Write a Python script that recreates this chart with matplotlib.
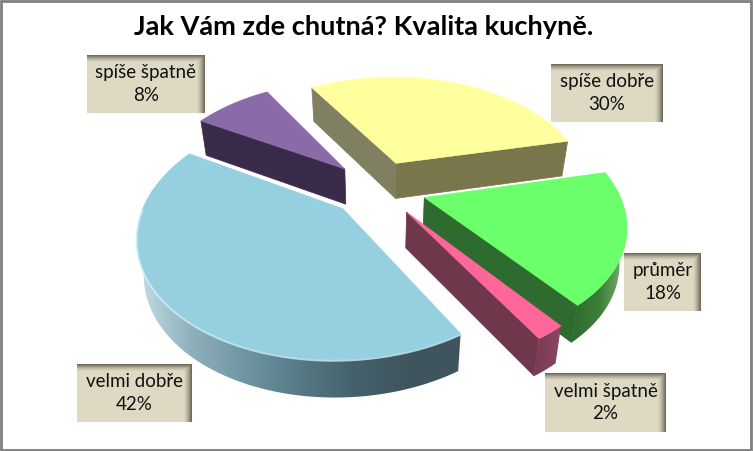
import numpy as np
import matplotlib
matplotlib.use("Agg")
import matplotlib.pyplot as plt
from matplotlib.colors import to_rgb
from matplotlib.patches import Polygon, Rectangle

plt.rcParams['font.family'] = ['Lato', 'DejaVu Sans']

title = "Jak Vám zde chutná? Kvalita kuchyně."

# counter-clockwise from the yellow slice
categories = ["spíše dobře", "spíše špatně", "velmi dobře", "velmi špatně", "průměr"]
values = [30, 8, 42, 2, 18]

top_colors = ["#FFFF9E", "#8A6BA8", "#96CFE0", "#FF6699", "#6BFF6B"]
wall_colors = ["#79764C", "#3A2B4A", "#3F555E", "#6E374C", "#2E6B2E"]
arc_ramps = [
    ["#79764C", "#79764C"],
    ["#3A2B4A", "#3A2B4A"],
    ["#C4DEE6", "#8FB0BB", "#6F95A3", "#567A86", "#45626C", "#3F555E", "#3F555E"],
    ["#7A3A54", "#8C4560"],
    ["#2E6B2E", "#3C8038", "#7DB87A"],
]
label_boxes = [(551, 64, 112, 58), (87, 55, 118, 58), (77, 364, 115, 58),
               (545, 373, 121, 59), (624, 253, 77, 58)]

START_ANGLE = 13
EXPLODE = 0.25
CX, CY = 378, 188
A, B = 193, 112
PX, PY = 0.2, 0.197
DEPTH = 35.5
WALL_TAPER = 0.97


def project(x, y, wall=False):
    sx = CX + A * x / (1 + PX * y)
    sy = CY - B * y / (1 + PY * y)
    if wall:
        sx = CX + (sx - CX) * WALL_TAPER
        sy = sy + DEPTH / (1 + 0.05 * y)
    return sx, sy


def ramp_image(ramp, n=256):
    t = np.linspace(0, len(ramp) - 1, n)
    rgb = np.array([to_rgb(c) for c in ramp])
    channels = [np.interp(t, np.arange(len(ramp)), rgb[:, c]) for c in range(3)]
    return np.dstack(channels)


fig = plt.figure(figsize=(7.53, 4.51), dpi=100)
ax = fig.add_axes([0, 0, 1, 1])

edges = START_ANGLE + np.cumsum([0] + values) * 3.6
slices = []
for i in range(len(values)):
    slices.append((np.sin(np.radians((edges[i] + edges[i + 1]) / 2)), i))

# far slices first, near ones go on top
for rank, (_, i) in enumerate(sorted(slices, reverse=True)):
    z = 2 + rank
    t0, t1 = edges[i], edges[i + 1]
    mid = np.radians((t0 + t1) / 2)
    ox, oy = EXPLODE * np.cos(mid), EXPLODE * np.sin(mid)
    theta = np.radians(np.linspace(t0, t1, 200))
    arc_x = ox + np.cos(theta)
    arc_y = oy + np.sin(theta)

    # radial walls that face the viewer
    for edge, normal in ((t0, t0 - 90), (t1, t1 + 90)):
        if np.sin(np.radians(normal)) < 0:
            ex, ey = ox + np.cos(np.radians(edge)), oy + np.sin(np.radians(edge))
            pts = [project(ox, oy), project(ex, ey), project(ex, ey, True), project(ox, oy, True)]
            color = "#807F62" if edge == t1 and i == 0 else wall_colors[i]
            ax.add_patch(Polygon(pts, closed=True, fc=color, ec=color, lw=0.5, zorder=z))

    # outer wall, shaded from left to right
    visible = np.where(np.sin(theta) < 0)[0]
    if len(visible) > 1:
        upper = [project(arc_x[j], arc_y[j]) for j in visible]
        lower = [project(arc_x[j], arc_y[j], True) for j in visible]
        outline = np.array(upper + lower[::-1])
        patch = Polygon(outline, closed=True, fc="none", ec="none", zorder=z)
        ax.add_patch(patch)
        im = ax.imshow(ramp_image(arc_ramps[i]),
                       extent=(outline[:, 0].min(), outline[:, 0].max(), outline[:, 1].max(), outline[:, 1].min()),
                       aspect="auto", interpolation="bilinear", zorder=z)
        im.set_clip_path(patch)

    # top face
    top = [project(ox, oy)] + [project(a, b) for a, b in zip(arc_x, arc_y)]
    ax.add_patch(Polygon(top, closed=True, fc=top_colors[i], ec=top_colors[i], lw=0.4, zorder=z))
    if i == 2:
        rim = np.array(upper)
        ax.plot(rim[:, 0], rim[:, 1] + 1, color="#CDF3FA", lw=1.3, alpha=0.8, zorder=z)

# label boxes with the dark bevel on top and right
for (x, y, w, h), cat, val in zip(label_boxes, categories, values):
    base = np.array(to_rgb("#DDD9C3"))
    dark = np.array(to_rgb("#6F6B5C"))
    yy, xx = np.mgrid[0:h, 0:w]
    shade = np.maximum(np.clip(1 - yy / 7, 0, 1), np.clip(1 - (w - 1 - xx) / 8, 0, 1)) ** 1.5
    img = base + (dark - base) * shade[..., None]
    ax.imshow(img, extent=(x, x + w, y + h, y), interpolation="bilinear", zorder=10, aspect="auto")
    ax.text(x + w / 2, y + h / 2, f"{cat}\n{val}%", ha="center", va="center",
            fontsize=13.5, color="#111111", linespacing=1.42, zorder=11)

ax.text(364, 27, title, ha="center", va="center", fontsize=19.6, fontweight="bold", color="black")

# window frame of the screenshot
ax.add_patch(Rectangle((1, 1), 750.5, 448.5, fill=False, ec="#808080", lw=2, zorder=12))

ax.set_xlim(0, 753)
ax.set_ylim(451, 0)
ax.axis("off")

fig.savefig("out.png", dpi=100)
